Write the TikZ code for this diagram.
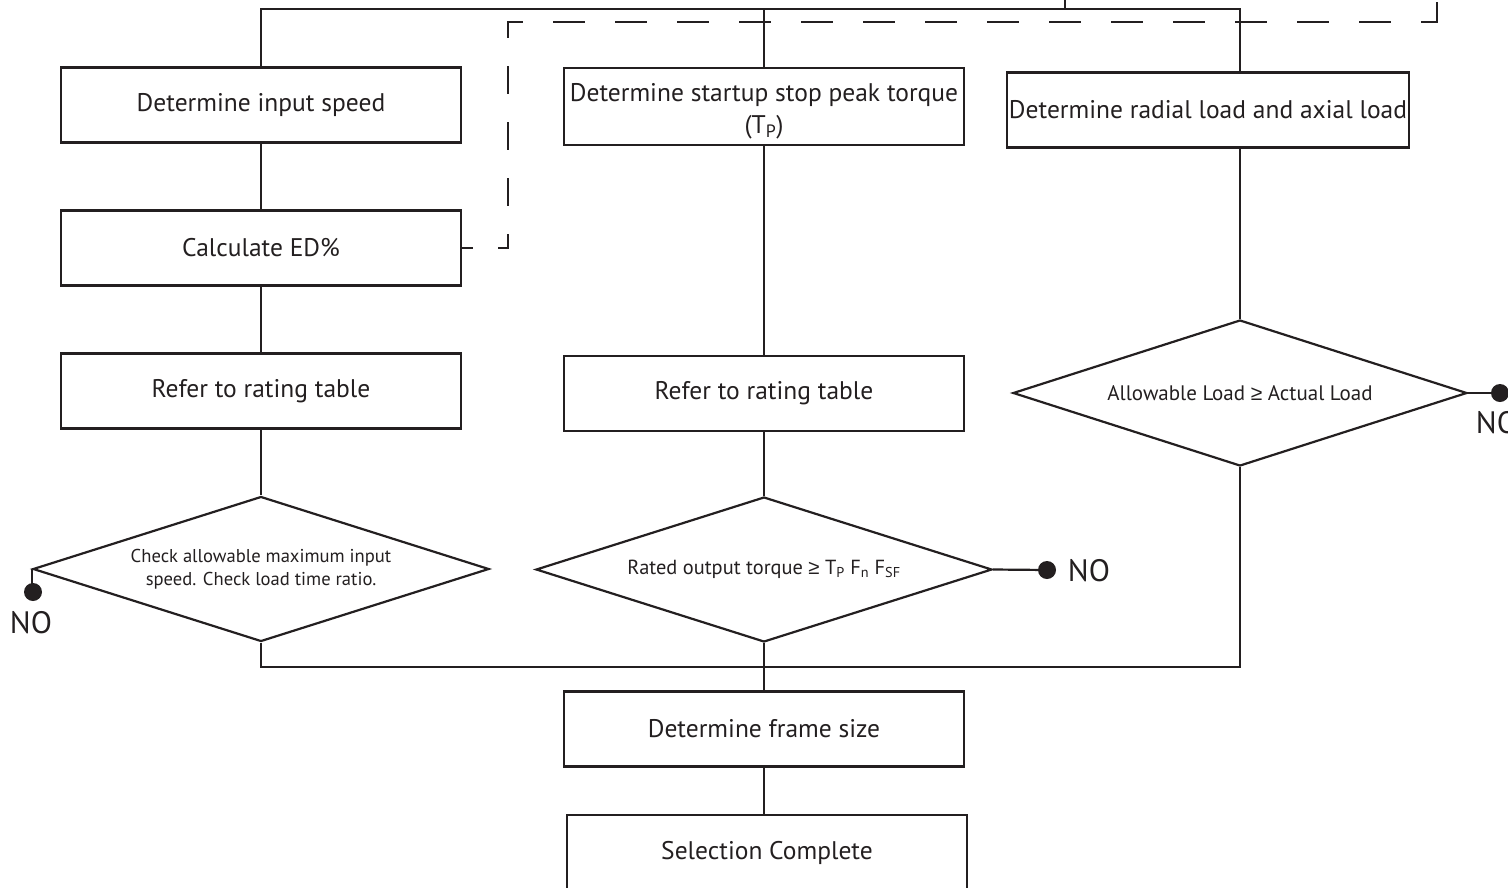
\documentclass[tikz,border=0pt]{standalone}
\usepackage{fontspec}
\setmainfont{PT Sans}
\newfontfamily\symfont{Liberation Sans}
\usetikzlibrary{shapes.geometric}
\definecolor{ink}{RGB}{35,31,32}
\newcommand{\gesym}{{\symfont ≥}}
\begin{document}
\begin{tikzpicture}[x=1pt,y=-1pt,
  ln/.style={line width=2.2pt, draw=ink},
  box/.style={ln, rectangle, minimum width=400pt, minimum height=75pt, inner sep=2pt,
    font=\fontsize{25.5}{32}\selectfont, align=center, text=ink},
  boxtext/.style={font=\fontsize{25.5}{32}\selectfont, align=center, text=ink, inner sep=0pt},
  dia/.style={ln, diamond, shape aspect=3.14, minimum width=456pt, minimum height=145pt, inner sep=0pt,
    font=\fontsize{21}{25}\selectfont, align=center, text=ink},
  dot/.style={circle, fill=ink, minimum size=18pt, inner sep=0pt},
  notext/.style={font=\fontsize{31}{34}\selectfont, text=ink},
  dashseg/.style={ln, line cap=rect}]
\useasboundingbox (0,0) rectangle (1508,887);

% boxes and decisions
\node[box] (b1) at (261,105) {Determine input speed};
\node[box] (b2) at (261,248) {Calculate ED\%};
\node[box] (b3) at (261,391) {Refer to rating table};
\node[dia, font=\fontsize{18.6}{23}\selectfont] (d1) at (261,569) {Check allowable maximum input\\speed. Check load time ratio.};

\node[box, minimum height=77pt] (b4) at (764,106.5) {};
\node[boxtext] (b4t) at (764,111) {Determine startup stop peak torque\\(T\textsubscript{P})};
\node[box] (b5) at (764,393.5) {Refer to rating table};
\node[dia, font=\fontsize{20.4}{25}\selectfont] (d2) at (764,569.5) {Rated output torque \gesym\ T\textsubscript{P} F\textsubscript{n} F\textsubscript{SF}};

\node[box] (b6) at (1208,110) {Determine radial load and axial load};
\node[dia, minimum width=454pt, minimum height=146pt] (d3) at (1240,393) {Allowable Load \gesym\ Actual Load};

\node[box] (b7) at (764,729) {Determine frame size};
\node[box, minimum height=76pt] (b8) at (767,853) {Selection Complete};

% top distribution line
\coordinate (tl) at (261,9);
\coordinate (tr) at (1240,9);
\coordinate (ts) at (1065,0);
\draw[ln] (b1.north) -- (tl) -- (tr) -- (tr |- b6.north);
\draw[ln] (b4.north) -- (b4.north |- tl);
\draw[ln] (ts) -- (ts |- tl);

% column connectors
\draw[ln] (b1) -- (b2);
\draw[ln] (b2) -- (b3);
\draw[ln] (b3) -- (d1);
\draw[ln] (b4) -- (b5);
\draw[ln] (b5) -- (d2);
\draw[ln] (d3.north |- b6.south) -- (d3.north);

% merge line
\coordinate (m1) at (261,667);
\coordinate (m3) at (1240,667);
\draw[ln] (d1.south) -- (m1) -- (m3) -- (d3.south);
\draw[ln] (d2.south) -- (b7.north);
\draw[ln] (b7.south) -- (b7.south |- b8.north);

% dashed feedback line (dashes aligned to corners)
\coordinate (dc1) at (508,248);
\coordinate (dc2) at (508,22);
\coordinate (dc3) at (1437,22);
\coordinate (dc4) at (1437,3);
\draw[dashseg, dash pattern=on 9.8pt off 27.2pt] (b2.east) -- (dc1);
\draw[dashseg, dash pattern=on 25.8pt off 30.2pt, dash phase=13pt] (dc1) -- (dc2);
\draw[dashseg, dash pattern=on 29.8pt off 32.2pt, dash phase=16pt] (dc2) -- (dc3);
\draw[dashseg] (dc3) -- (dc4);

% NO exits
\node[dot] (n1) at (33,592) {};
\draw[ln] (d1.west) -- (d1.west |- n1);
\node[notext] (no1) at (31,623) {NO};

\node[dot] (n2) at (1047,570) {};
\draw[ln] (d2.east) -- (n2);
\node[notext] (no2) at (1089,571) {NO};

\node[dot] (n3) at (1500,393) {};
\draw[ln] (d3.east) -- (n3);
\node[notext] (no3) at (1497,423) {NO};
\end{tikzpicture}
\end{document}
